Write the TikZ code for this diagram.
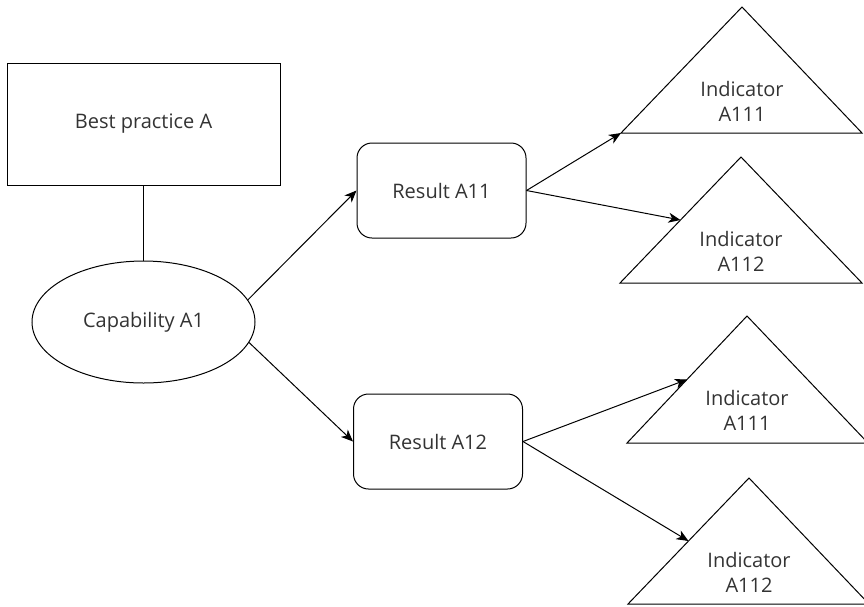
\documentclass[tikz,border=0pt]{standalone}
\usepackage{fontspec}
\setmainfont{Open Sans}
\usetikzlibrary{arrows.meta,shapes.geometric,calc}
\definecolor{txt}{RGB}{51,51,51}
\begin{document}
\begin{tikzpicture}[x=1pt,y=-1pt,
  every node/.style={font=\fontsize{20}{25}\selectfont, text=txt, align=center},
  line/.style={draw=black, line width=1pt},
  arr/.style={line, -{Stealth[length=12pt,width=10pt,inset=3.5pt]}},
  boxA/.style={line, rectangle, minimum width=273pt, minimum height=122pt, inner sep=0pt},
  resbox/.style={line, rectangle, rounded corners=15pt, minimum width=169pt, minimum height=95pt, inner sep=0pt},
  capell/.style={line, ellipse, minimum width=223pt, minimum height=122pt, inner sep=0pt},
  tri/.style={line, line join=miter}
]
\useasboundingbox (0,0) rectangle (864,606);

\node[boxA] (bp) at (143.5,124) {Best practice A};
\node[capell] (cap) at (143.5,322) {Capability A1};
\node[resbox] (r1) at (441.5,190.5) {Result A11};
\node[resbox] (r2) at (438,441.5) {Result A12};

% triangles: apex, base-left, base-right
\coordinate (t1a) at (742,7);   \coordinate (t1l) at (621,133); \coordinate (t1r) at (862,133);
\coordinate (t2a) at (741,157); \coordinate (t2l) at (620,283); \coordinate (t2r) at (862,283);
\coordinate (t3a) at (747,316); \coordinate (t3l) at (627,443); \coordinate (t3r) at (868,443);
\coordinate (t4a) at (749,478); \coordinate (t4l) at (628,604); \coordinate (t4r) at (869,604);
\draw[tri] (t1a) -- (t1l) -- (t1r) -- cycle;
\draw[tri] (t2a) -- (t2l) -- (t2r) -- cycle;
\draw[tri] (t3a) -- (t3l) -- (t3r) -- cycle;
\draw[tri] (t4a) -- (t4l) -- (t4r) -- cycle;
\node (i1) at (742,101) {Indicator\\A111};
\node (i2) at (741,251) {Indicator\\A112};
\node (i3) at (747,410) {Indicator\\A111};
\node (i4) at (749,572) {Indicator\\A112};
\coordinate (t2m) at ($(t2a)!0.5!(t2l)$);
\coordinate (t3m) at ($(t3a)!0.5!(t3l)$);
\coordinate (t4m) at ($(t4a)!0.5!(t4l)$);

\draw[line] (bp.south) -- (cap.north);
\draw[arr] (cap.12) -- (r1.west);
\draw[arr] (cap.-11) -- (r2.west);
\draw[arr] (r1.east) -- (t1l);
\draw[arr] (r1.east) -- (t2m);
\draw[arr] (r2.east) -- (t3m);
\draw[arr] (r2.east) -- (t4m);
\end{tikzpicture}
\end{document}
